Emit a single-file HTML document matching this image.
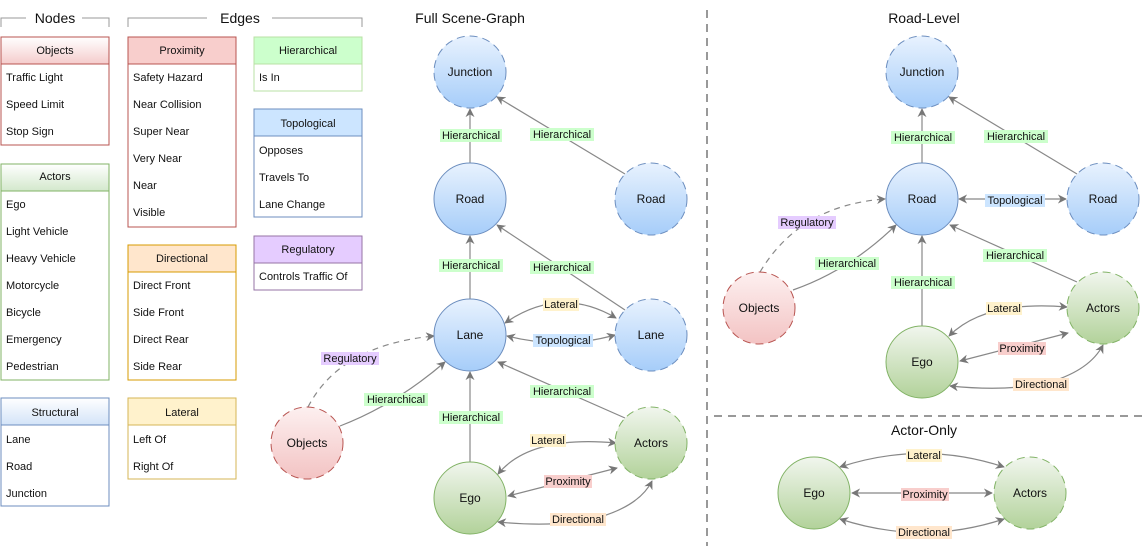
<!DOCTYPE html>
<html><head><meta charset="utf-8"><style>
body{margin:0;background:#fff}
svg{display:block;font-family:"Liberation Sans",Arial,sans-serif}
</style></head><body>
<svg width="1142" height="546" viewBox="0 0 1142 546" xmlns="http://www.w3.org/2000/svg">
<defs>
<linearGradient id="gb" x1="0" y1="0" x2="0" y2="1"><stop offset="0" stop-color="#e8f2fe"/><stop offset="1" stop-color="#a6cdf9"/></linearGradient>
<linearGradient id="gg" x1="0" y1="0" x2="0" y2="1"><stop offset="0" stop-color="#f1f6ee"/><stop offset="1" stop-color="#b2d29a"/></linearGradient>
<linearGradient id="gr" x1="0" y1="0" x2="0" y2="1"><stop offset="0" stop-color="#fdf0f0"/><stop offset="1" stop-color="#f3c3c3"/></linearGradient>
<linearGradient id="hr" x1="0" y1="0" x2="0" y2="1"><stop offset="0" stop-color="#fff"/><stop offset="1" stop-color="#f5cccc"/></linearGradient>
<linearGradient id="hg" x1="0" y1="0" x2="0" y2="1"><stop offset="0" stop-color="#fff"/><stop offset="1" stop-color="#d3e8cc"/></linearGradient>
<linearGradient id="hb" x1="0" y1="0" x2="0" y2="1"><stop offset="0" stop-color="#fff"/><stop offset="1" stop-color="#d3e4f8"/></linearGradient>
<marker id="a" viewBox="0 0 10 10" refX="9" refY="5" markerWidth="9" markerHeight="9" markerUnits="userSpaceOnUse" orient="auto-start-reverse"><path d="M0,0 L10,5 L0,10 L3,5 z" fill="#777"/></marker>
</defs>

<!-- legend headers -->
<g fill="none" stroke="#999" stroke-width="1">
<path d="M1,27 V18 H26 M82,18 H109 V27"/>
<path d="M128,27 V18 H207 M272,18 H362 V27"/>
</g>
<text x="55" y="23" font-size="14" text-anchor="middle" fill="#111">Nodes</text>
<text x="240" y="23" font-size="14" text-anchor="middle" fill="#111">Edges</text>

<g font-size="11" fill="#111">
<!-- Objects -->
<rect x="1" y="37" width="108" height="108" fill="#fff" stroke="#b85450"/>
<rect x="1" y="37" width="108" height="27" fill="url(#hr)" stroke="#b85450"/>
<text x="55" y="54" text-anchor="middle">Objects</text>
<text x="6" y="81">Traffic Light</text><text x="6" y="108">Speed Limit</text><text x="6" y="135">Stop Sign</text>
<!-- Actors -->
<rect x="1" y="164" width="108" height="216" fill="#fff" stroke="#82b366"/>
<rect x="1" y="164" width="108" height="27" fill="url(#hg)" stroke="#82b366"/>
<text x="55" y="180" text-anchor="middle">Actors</text>
<text x="6" y="208">Ego</text><text x="6" y="235">Light Vehicle</text><text x="6" y="262">Heavy Vehicle</text><text x="6" y="289">Motorcycle</text><text x="6" y="316">Bicycle</text><text x="6" y="343">Emergency</text><text x="6" y="370">Pedestrian</text>
<!-- Structural -->
<rect x="1" y="398" width="108" height="108" fill="#fff" stroke="#6c8ebf"/>
<rect x="1" y="398" width="108" height="27" fill="url(#hb)" stroke="#6c8ebf"/>
<text x="55" y="416" text-anchor="middle">Structural</text>
<text x="6" y="443">Lane</text><text x="6" y="470">Road</text><text x="6" y="497">Junction</text>
<!-- Proximity -->
<rect x="128" y="37" width="108" height="190" fill="#fff" stroke="#b85450"/>
<rect x="128" y="37" width="108" height="27" fill="#f8cecc" stroke="#b85450"/>
<text x="182" y="54" text-anchor="middle">Proximity</text>
<text x="133" y="81">Safety Hazard</text><text x="133" y="108">Near Collision</text><text x="133" y="135">Super Near</text><text x="133" y="162">Very Near</text><text x="133" y="189">Near</text><text x="133" y="216">Visible</text>
<!-- Directional -->
<rect x="128" y="245" width="108" height="135" fill="#fff" stroke="#d79b00"/>
<rect x="128" y="245" width="108" height="27" fill="#ffe6cc" stroke="#d79b00"/>
<text x="182" y="262" text-anchor="middle">Directional</text>
<text x="133" y="289">Direct Front</text><text x="133" y="316">Side Front</text><text x="133" y="343">Direct Rear</text><text x="133" y="370">Side Rear</text>
<!-- Lateral -->
<rect x="128" y="398" width="108" height="81" fill="#fff" stroke="#d6b656"/>
<rect x="128" y="398" width="108" height="27" fill="#fff2cc" stroke="#d6b656"/>
<text x="182" y="416" text-anchor="middle">Lateral</text>
<text x="133" y="443">Left Of</text><text x="133" y="470">Right Of</text>
<!-- Hierarchical -->
<rect x="254" y="37" width="108" height="54" fill="#fff" stroke="#b9e0a5"/>
<rect x="254" y="37" width="108" height="27" fill="#ccffcc" stroke="#b9e0a5"/>
<text x="308" y="54" text-anchor="middle">Hierarchical</text>
<text x="259" y="81">Is In</text>
<!-- Topological -->
<rect x="254" y="109" width="108" height="108" fill="#fff" stroke="#6c8ebf"/>
<rect x="254" y="109" width="108" height="27" fill="#cce5ff" stroke="#6c8ebf"/>
<text x="308" y="127" text-anchor="middle">Topological</text>
<text x="259" y="154">Opposes</text><text x="259" y="181">Travels To</text><text x="259" y="208">Lane Change</text>
<!-- Regulatory -->
<rect x="254" y="236" width="108" height="54" fill="#fff" stroke="#9673a6"/>
<rect x="254" y="236" width="108" height="27" fill="#e5ccff" stroke="#9673a6"/>
<text x="308" y="253" text-anchor="middle">Regulatory</text>
<text x="259" y="280">Controls Traffic Of</text>
</g>

<!-- separators -->
<line x1="707" y1="10" x2="707" y2="546" stroke="#333" stroke-dasharray="8,6"/>
<line x1="714" y1="416" x2="1142" y2="416" stroke="#333" stroke-dasharray="8,6"/>

<g font-size="14" fill="#111" text-anchor="middle">
<text x="470" y="23">Full Scene-Graph</text>
<text x="924" y="23">Road-Level</text>
<text x="924" y="435">Actor-Only</text>
</g>

<!-- edges full -->
<g fill="none" stroke="#888" stroke-width="1.2">
<line x1="470" y1="163" x2="470" y2="109" marker-end="url(#a)"/>
<line x1="625" y1="174" x2="497" y2="97" marker-end="url(#a)"/>
<line x1="470" y1="299" x2="470" y2="236" marker-end="url(#a)"/>
<line x1="625" y1="310" x2="497" y2="225" marker-end="url(#a)"/>
<path d="M505,323 Q560,285 616,318" marker-start="url(#a)" marker-end="url(#a)"/>
<path d="M507,336 Q562,350 615,335" marker-start="url(#a)" marker-end="url(#a)"/>
<path d="M340,426 Q395,405 445,362" marker-end="url(#a)"/>
<path d="M308,407 Q340,345 434,336" stroke-dasharray="6,5" marker-end="url(#a)"/>
<line x1="470" y1="462" x2="470" y2="372" marker-end="url(#a)"/>
<line x1="625" y1="418" x2="498" y2="362" marker-end="url(#a)"/>
<path d="M498,474 Q530,435 616,443" marker-start="url(#a)" marker-end="url(#a)"/>
<line x1="508" y1="496" x2="617" y2="468" marker-start="url(#a)" marker-end="url(#a)"/>
<path d="M498,522 Q560,528 600,517 Q640,505 652,481" marker-start="url(#a)" marker-end="url(#a)"/>

<!-- road level -->
<line x1="922" y1="163" x2="922" y2="109" marker-end="url(#a)"/>
<line x1="1077" y1="174" x2="949" y2="97" marker-end="url(#a)"/>
<line x1="959" y1="199" x2="1066" y2="199" marker-start="url(#a)" marker-end="url(#a)"/>
<path d="M793,290 Q850,270 896,225" marker-end="url(#a)"/>
<path d="M760,272 Q800,205 885,199" stroke-dasharray="6,5" marker-end="url(#a)"/>
<line x1="922" y1="326" x2="922" y2="236" marker-end="url(#a)"/>
<line x1="1077" y1="282" x2="950" y2="225" marker-end="url(#a)"/>
<path d="M949,336 Q985,300 1067,307" marker-start="url(#a)" marker-end="url(#a)"/>
<line x1="960" y1="361" x2="1068" y2="333" marker-start="url(#a)" marker-end="url(#a)"/>
<path d="M950,386 Q1010,392 1050,382 Q1090,370 1103,345" marker-start="url(#a)" marker-end="url(#a)"/>

<!-- actor only -->
<path d="M840,467 Q922,440 1004,467" marker-start="url(#a)" marker-end="url(#a)"/>
<line x1="852" y1="493" x2="992" y2="493" marker-start="url(#a)" marker-end="url(#a)"/>
<path d="M840,519 Q922,546 1004,519" marker-start="url(#a)" marker-end="url(#a)"/>
</g>

<!-- nodes -->
<g font-size="12" fill="#111" text-anchor="middle">
<circle cx="470" cy="72" r="36" fill="url(#gb)" stroke="#6c8ebf" stroke-dasharray="8,5"/><text x="470" y="76">Junction</text>
<circle cx="470" cy="199" r="36" fill="url(#gb)" stroke="#6c8ebf"/><text x="470" y="203">Road</text>
<circle cx="651" cy="199" r="36" fill="url(#gb)" stroke="#6c8ebf" stroke-dasharray="8,5"/><text x="651" y="203">Road</text>
<circle cx="470" cy="335" r="36" fill="url(#gb)" stroke="#6c8ebf"/><text x="470" y="339">Lane</text>
<circle cx="651" cy="335" r="36" fill="url(#gb)" stroke="#6c8ebf" stroke-dasharray="8,5"/><text x="651" y="339">Lane</text>
<circle cx="307" cy="443" r="36" fill="url(#gr)" stroke="#b85450" stroke-dasharray="8,5"/><text x="307" y="447">Objects</text>
<circle cx="470" cy="498" r="36" fill="url(#gg)" stroke="#82b366"/><text x="470" y="502">Ego</text>
<circle cx="651" cy="443" r="36" fill="url(#gg)" stroke="#82b366" stroke-dasharray="8,5"/><text x="651" y="447">Actors</text>

<circle cx="922" cy="72" r="36" fill="url(#gb)" stroke="#6c8ebf" stroke-dasharray="8,5"/><text x="922" y="76">Junction</text>
<circle cx="922" cy="199" r="36" fill="url(#gb)" stroke="#6c8ebf"/><text x="922" y="203">Road</text>
<circle cx="1103" cy="199" r="36" fill="url(#gb)" stroke="#6c8ebf" stroke-dasharray="8,5"/><text x="1103" y="203">Road</text>
<circle cx="759" cy="308" r="36" fill="url(#gr)" stroke="#b85450" stroke-dasharray="8,5"/><text x="759" y="312">Objects</text>
<circle cx="922" cy="362" r="36" fill="url(#gg)" stroke="#82b366"/><text x="922" y="366">Ego</text>
<circle cx="1103" cy="308" r="36" fill="url(#gg)" stroke="#82b366" stroke-dasharray="8,5"/><text x="1103" y="312">Actors</text>

<circle cx="814" cy="493" r="36" fill="url(#gg)" stroke="#82b366"/><text x="814" y="497">Ego</text>
<circle cx="1030" cy="493" r="36" fill="url(#gg)" stroke="#82b366" stroke-dasharray="8,5"/><text x="1030" y="497">Actors</text>
</g>

<!-- edge labels -->
<g font-size="11" fill="#111" text-anchor="middle">
<rect x="440" y="129" width="62" height="13" fill="#ccffcc"/><text x="471" y="139">Hierarchical</text>
<rect x="530" y="128" width="64" height="13" fill="#ccffcc"/><text x="562" y="138">Hierarchical</text>
<rect x="439" y="259" width="64" height="13" fill="#ccffcc"/><text x="471" y="269">Hierarchical</text>
<rect x="530" y="261" width="64" height="13" fill="#ccffcc"/><text x="562" y="271">Hierarchical</text>
<rect x="543" y="298" width="36" height="13" fill="#fff2cc"/><text x="561" y="308">Lateral</text>
<rect x="533" y="334" width="60" height="13" fill="#cce5ff"/><text x="563" y="344">Topological</text>
<rect x="321" y="352" width="58" height="13" fill="#e5ccff"/><text x="350" y="362">Regulatory</text>
<rect x="364" y="393" width="64" height="13" fill="#ccffcc"/><text x="396" y="403">Hierarchical</text>
<rect x="439" y="411" width="64" height="13" fill="#ccffcc"/><text x="471" y="421">Hierarchical</text>
<rect x="530" y="385" width="64" height="13" fill="#ccffcc"/><text x="562" y="395">Hierarchical</text>
<rect x="530" y="434" width="36" height="13" fill="#fff2cc"/><text x="548" y="444">Lateral</text>
<rect x="544" y="475" width="48" height="13" fill="#f8cecc"/><text x="568" y="485">Proximity</text>
<rect x="550" y="513" width="56" height="13" fill="#ffe6cc"/><text x="578" y="523">Directional</text>

<rect x="891" y="131" width="64" height="13" fill="#ccffcc"/><text x="923" y="141">Hierarchical</text>
<rect x="984" y="130" width="64" height="13" fill="#ccffcc"/><text x="1016" y="140">Hierarchical</text>
<rect x="985" y="194" width="60" height="13" fill="#cce5ff"/><text x="1015" y="204">Topological</text>
<rect x="778" y="216" width="58" height="13" fill="#e5ccff"/><text x="807" y="226">Regulatory</text>
<rect x="815" y="257" width="64" height="13" fill="#ccffcc"/><text x="847" y="267">Hierarchical</text>
<rect x="891" y="276" width="64" height="13" fill="#ccffcc"/><text x="923" y="286">Hierarchical</text>
<rect x="983" y="249" width="64" height="13" fill="#ccffcc"/><text x="1015" y="259">Hierarchical</text>
<rect x="986" y="302" width="36" height="13" fill="#fff2cc"/><text x="1004" y="312">Lateral</text>
<rect x="998" y="342" width="48" height="13" fill="#f8cecc"/><text x="1022" y="352">Proximity</text>
<rect x="1013" y="378" width="56" height="13" fill="#ffe6cc"/><text x="1041" y="388">Directional</text>

<rect x="906" y="449" width="36" height="13" fill="#fff2cc"/><text x="924" y="459">Lateral</text>
<rect x="901" y="488" width="48" height="13" fill="#f8cecc"/><text x="925" y="498">Proximity</text>
<rect x="896" y="526" width="56" height="13" fill="#ffe6cc"/><text x="924" y="536">Directional</text>
</g>
</svg>
</body></html>
